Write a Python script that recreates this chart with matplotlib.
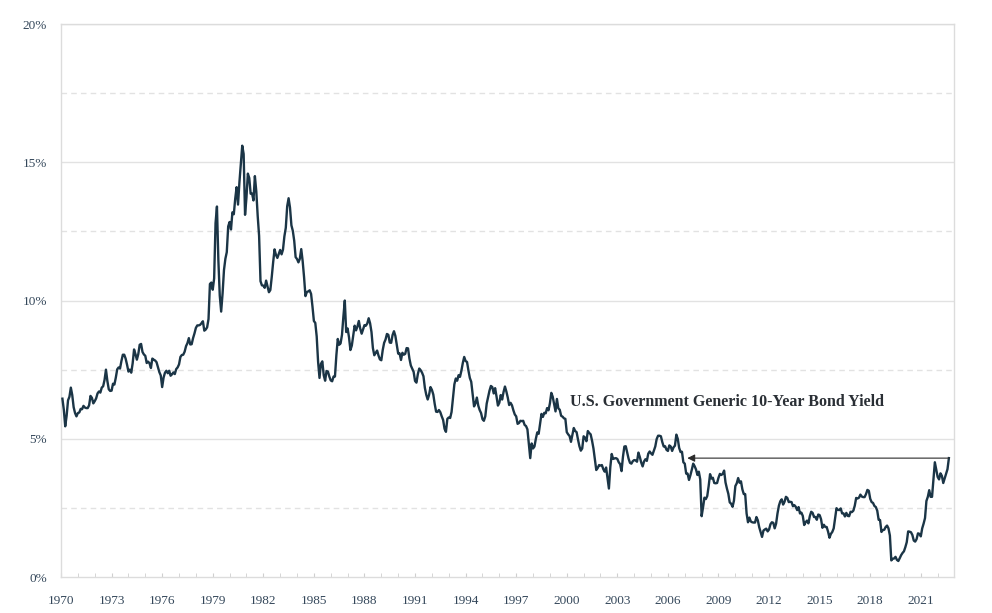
# -*- coding: utf-8 -*-
"""
US 10-year generic government bond yield, monthly readings.
"""
import numpy as np
import matplotlib
matplotlib.use('Agg')
import matplotlib.pyplot as plt
from matplotlib.ticker import MultipleLocator, FuncFormatter

# Monthly yields (%), Jan..Dec per row.
yld1971 = [6.45, 6.05, 5.45, 5.83, 6.39, 6.52, 6.85, 6.58, 6.14, 5.93, 5.81, 5.93]
yld1972 = [5.95, 6.08, 6.07, 6.19, 6.13, 6.11, 6.11, 6.21, 6.55, 6.48, 6.28, 6.36]
yld1973 = [6.46, 6.64, 6.71, 6.67, 6.85, 6.90, 7.13, 7.50, 7.09, 6.79, 6.73, 6.74]
yld1974 = [6.99, 6.96, 7.21, 7.51, 7.58, 7.54, 7.81, 8.04, 8.04, 7.90, 7.68, 7.43]
yld1975 = [7.50, 7.39, 7.73, 8.23, 8.06, 7.86, 8.06, 8.40, 8.43, 8.14, 8.05, 8.00]
yld1976 = [7.74, 7.79, 7.73, 7.56, 7.90, 7.86, 7.83, 7.77, 7.59, 7.41, 7.29, 6.87]
yld1977 = [7.21, 7.39, 7.46, 7.37, 7.46, 7.28, 7.33, 7.40, 7.34, 7.52, 7.58, 7.69]
yld1978 = [7.96, 8.03, 8.04, 8.15, 8.35, 8.46, 8.64, 8.41, 8.42, 8.64, 8.81, 9.01]
yld1979 = [9.10, 9.10, 9.12, 9.18, 9.25, 8.91, 8.95, 9.03, 9.33, 10.60, 10.65, 10.39]
yld1980 = [10.80, 12.80, 13.40, 11.47, 10.18, 9.60, 10.25, 11.10, 11.51, 11.75, 12.68, 12.84]
yld1981 = [12.57, 13.19, 13.12, 13.68, 14.10, 13.47, 14.28, 14.94, 15.60, 15.30, 13.10, 13.72]
yld1982 = [14.59, 14.43, 13.86, 13.87, 13.62, 14.50, 13.95, 13.06, 12.34, 10.70, 10.55, 10.54]
yld1983 = [10.46, 10.72, 10.51, 10.30, 10.38, 10.85, 11.38, 11.85, 11.65, 11.54, 11.69, 11.83]
yld1984 = [11.67, 11.84, 12.32, 12.63, 13.41, 13.70, 13.36, 12.72, 12.52, 12.16, 11.57, 11.50]
yld1985 = [11.38, 11.51, 11.86, 11.43, 10.85, 10.16, 10.31, 10.33, 10.37, 10.24, 9.78, 9.26]
yld1986 = [9.19, 8.70, 7.78, 7.20, 7.71, 7.80, 7.30, 7.10, 7.45, 7.43, 7.25, 7.11]
yld1987 = [7.08, 7.25, 7.25, 8.02, 8.61, 8.40, 8.45, 8.76, 9.42, 10.00, 8.86, 8.99]
yld1988 = [8.67, 8.21, 8.37, 8.72, 9.09, 8.92, 9.06, 9.26, 8.98, 8.80, 8.96, 9.11]
yld1989 = [9.09, 9.17, 9.36, 9.18, 8.86, 8.28, 8.02, 8.11, 8.19, 8.01, 7.87, 7.84]
yld1990 = [8.21, 8.47, 8.59, 8.79, 8.76, 8.48, 8.47, 8.75, 8.89, 8.72, 8.39, 8.08]
yld1991 = [8.09, 7.85, 8.11, 8.04, 8.07, 8.28, 8.27, 7.90, 7.65, 7.53, 7.42, 7.09]
yld1992 = [7.03, 7.34, 7.54, 7.48, 7.39, 7.26, 6.84, 6.59, 6.42, 6.59, 6.87, 6.77]
yld1993 = [6.60, 6.26, 5.98, 5.97, 6.04, 5.96, 5.81, 5.68, 5.36, 5.25, 5.72, 5.77]
yld1994 = [5.75, 5.97, 6.48, 6.97, 7.18, 7.10, 7.30, 7.24, 7.46, 7.74, 7.96, 7.81]
yld1995 = [7.78, 7.47, 7.20, 7.06, 6.63, 6.17, 6.28, 6.49, 6.20, 6.04, 5.93, 5.71]
yld1996 = [5.65, 5.81, 6.27, 6.51, 6.74, 6.91, 6.87, 6.64, 6.83, 6.53, 6.20, 6.30]
yld1997 = [6.58, 6.42, 6.69, 6.89, 6.71, 6.49, 6.22, 6.30, 6.21, 6.03, 5.88, 5.81]
yld1998 = [5.54, 5.57, 5.65, 5.64, 5.65, 5.50, 5.46, 5.34, 4.81, 4.30, 4.83, 4.65]
yld1999 = [4.72, 5.00, 5.23, 5.18, 5.54, 5.90, 5.79, 5.94, 5.92, 6.11, 6.03, 6.28]
yld2000 = [6.66, 6.52, 6.26, 5.99, 6.44, 6.10, 6.05, 5.83, 5.80, 5.74, 5.72, 5.24]
yld2001 = [5.16, 5.10, 4.89, 5.14, 5.39, 5.28, 5.24, 4.97, 4.73, 4.57, 4.65, 5.09]
yld2002 = [5.04, 4.91, 5.28, 5.21, 5.16, 4.93, 4.65, 4.26, 3.87, 3.94, 4.05, 4.03]
yld2003 = [4.05, 3.90, 3.81, 3.96, 3.57, 3.20, 3.98, 4.45, 4.27, 4.29, 4.30, 4.27]
yld2004 = [4.15, 4.08, 3.83, 4.35, 4.72, 4.73, 4.50, 4.28, 4.13, 4.10, 4.19, 4.23]
yld2005 = [4.22, 4.17, 4.50, 4.34, 4.14, 4.00, 4.18, 4.26, 4.20, 4.46, 4.54, 4.47]
yld2006 = [4.42, 4.57, 4.72, 4.99, 5.11, 5.11, 5.09, 4.88, 4.72, 4.73, 4.60, 4.56]
yld2007 = [4.76, 4.72, 4.56, 4.69, 4.75, 5.15, 5.00, 4.67, 4.52, 4.53, 4.15, 4.10]
yld2008 = [3.74, 3.74, 3.51, 3.68, 3.88, 4.10, 4.01, 3.89, 3.69, 3.81, 3.53, 2.20]
yld2009 = [2.52, 2.87, 2.82, 2.93, 3.29, 3.72, 3.56, 3.59, 3.40, 3.39, 3.40, 3.59]
yld2010 = [3.73, 3.69, 3.73, 3.85, 3.42, 3.20, 3.01, 2.70, 2.65, 2.54, 2.76, 3.29]
yld2011 = [3.39, 3.58, 3.41, 3.46, 3.17, 3.00, 3.00, 2.30, 1.98, 2.15, 2.01, 1.98]
yld2012 = [1.97, 1.97, 2.17, 2.05, 1.80, 1.62, 1.45, 1.68, 1.72, 1.75, 1.65, 1.72]
yld2013 = [1.91, 1.98, 1.96, 1.76, 1.93, 2.30, 2.58, 2.74, 2.81, 2.62, 2.72, 2.90]
yld2014 = [2.86, 2.71, 2.72, 2.71, 2.56, 2.60, 2.54, 2.42, 2.53, 2.30, 2.33, 2.21]
yld2015 = [1.88, 1.98, 2.04, 1.94, 2.20, 2.36, 2.32, 2.17, 2.17, 2.07, 2.26, 2.24]
yld2016 = [2.09, 1.78, 1.89, 1.81, 1.81, 1.64, 1.42, 1.56, 1.63, 1.76, 2.14, 2.49]
yld2017 = [2.43, 2.42, 2.48, 2.30, 2.30, 2.19, 2.32, 2.21, 2.20, 2.36, 2.35, 2.40]
yld2018 = [2.58, 2.86, 2.84, 2.87, 2.98, 2.91, 2.89, 2.89, 3.00, 3.15, 3.12, 2.83]
yld2019 = [2.71, 2.68, 2.57, 2.53, 2.40, 2.07, 2.06, 1.63, 1.70, 1.71, 1.81, 1.86]
yld2020 = [1.76, 1.50, 0.60, 0.66, 0.67, 0.73, 0.62, 0.58, 0.68, 0.79, 0.87, 0.93]
yld2021 = [1.08, 1.26, 1.65, 1.64, 1.62, 1.52, 1.32, 1.28, 1.37, 1.58, 1.56, 1.47]
yld2022 = [1.76, 1.93, 2.13, 2.75, 2.90, 3.14, 2.90, 2.90, 3.52, 4.15, 3.89, 3.62]
yld2023 = [3.53, 3.75, 3.66, 3.40, 3.57, 3.75, 3.90, 4.30]

# First year on the chart's date axis (the series is labelled one year early).
axisStartYear = 1970
# Year labels shown under the axis.
yearTicks = list(range(1970, 2022, 3))
# Where the arrow points back to on the date axis.
arrowBackYear = 2007.15
labelStr = 'U.S. Government Generic 10-Year Bond Yield'

lineColor = '#1b3546'
textColor = '#34475a'
gridColor = '#e2e2e2'


def buildSeries():
    rows = [yld1971, yld1972, yld1973, yld1974, yld1975, yld1976, yld1977,
            yld1978, yld1979, yld1980, yld1981, yld1982, yld1983, yld1984,
            yld1985, yld1986, yld1987, yld1988, yld1989, yld1990, yld1991,
            yld1992, yld1993, yld1994, yld1995, yld1996, yld1997, yld1998,
            yld1999, yld2000, yld2001, yld2002, yld2003, yld2004, yld2005,
            yld2006, yld2007, yld2008, yld2009, yld2010, yld2011, yld2012,
            yld2013, yld2014, yld2015, yld2016, yld2017, yld2018, yld2019,
            yld2020, yld2021, yld2022, yld2023]
    vals = np.concatenate([np.array(r) for r in rows])
    # Month-end dates in decimal years.
    dates = axisStartYear + np.arange(1, len(vals) + 1) / 12.0
    return dates, vals


def plotYield():
    plt.rcParams['font.family'] = ['Liberation Serif', 'DejaVu Serif']

    dates, vals = buildSeries()

    fig = plt.figure(figsize=(9.92, 6.13), dpi=100)
    ax = fig.add_axes([0.0615, 0.0587, 0.9002, 0.9021])

    # Grid: solid at whole 5 %, dashed half-way between.
    for g in [5, 10, 15, 20]:
        ax.axhline(g, color=gridColor, lw=1.0, zorder=0)
    for g in [2.5, 7.5, 12.5, 17.5]:
        ax.axhline(g, color=gridColor, lw=1.0, ls=(0, (4, 3)), zorder=0)

    ax.plot(dates, vals, color=lineColor, lw=1.7, zorder=3)

    # Arrow from the latest reading back to the last time at that level.
    lastX, lastY = dates[-1], vals[-1]
    ax.annotate('', xy=(arrowBackYear, lastY), xytext=(lastX, lastY),
                arrowprops=dict(arrowstyle='-|>', color='#2b2b2b', lw=0.8,
                                mutation_scale=11, shrinkA=0, shrinkB=0),
                zorder=4)
    ax.text(2000.2, 6.33, labelStr, fontsize=11.5, fontweight='bold',
            color='#2a2f35', va='center', ha='left', zorder=5)

    ax.set_xlim(1970, 2022.97)
    ax.set_ylim(0, 20)

    ax.set_xticks(yearTicks)
    ax.xaxis.set_minor_locator(MultipleLocator(1))
    ax.xaxis.set_major_formatter(FuncFormatter(lambda v, p: '%d' % round(v)))
    ax.yaxis.set_major_locator(MultipleLocator(5))
    ax.yaxis.set_major_formatter(FuncFormatter(lambda v, p: '%d%%' % round(v)))

    ax.tick_params(axis='x', which='both', direction='in', length=3,
                   color='#cfcfcf', labelsize=9.5, labelcolor=textColor,
                   pad=13)
    ax.tick_params(axis='y', which='both', length=0, labelsize=9.5,
                   labelcolor=textColor, pad=10)

    for side in ['left', 'right', 'top', 'bottom']:
        ax.spines[side].set_color('#dcdcdc')
        ax.spines[side].set_linewidth(1.0)

    fig.savefig('out.png', dpi=100)


# Invoke the main function here.
if __name__ == "__main__":
    plotYield()
